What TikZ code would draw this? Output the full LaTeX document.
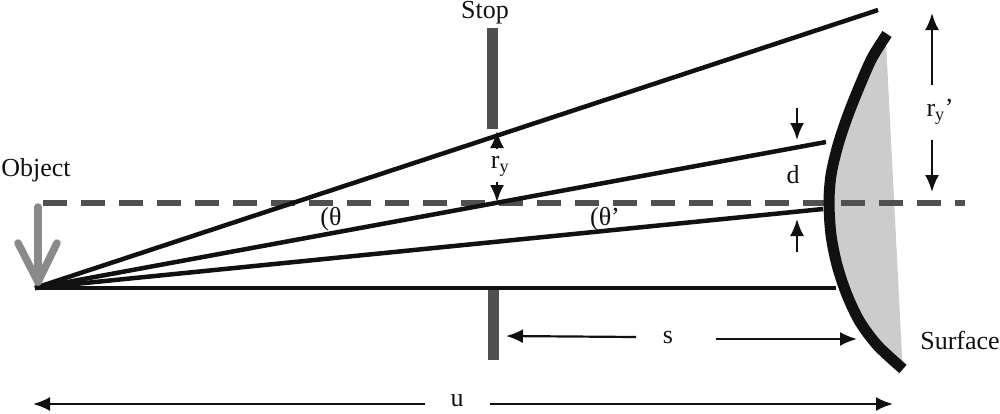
\documentclass[tikz,border=0pt]{standalone}
\usepackage{fontspec}
\setmainfont{Liberation Serif}
\usetikzlibrary{arrows.meta}
\definecolor{stopgray}{HTML}{505050}
\definecolor{objgray}{HTML}{8A8A8A}
\definecolor{surfgray}{HTML}{CCCCCC}
\definecolor{ink}{HTML}{111111}
\begin{document}
\begin{tikzpicture}[x=1pt,y=-1pt,
  lbl/.style={inner sep=0pt,font=\fontsize{26}{30}\selectfont,text=ink},
  ray/.style={draw=ink,line width=4.5pt},
  dimarrow/.style={draw=ink,line width=2.2pt,-{Latex[length=17pt,width=14pt]}},
  axis/.style={draw=stopgray,line width=6.5pt,dash pattern=on 24pt off 14pt},
  stopbar/.style={fill=stopgray,draw=none},
  objarrow/.style={draw=objgray,line width=7.5pt,line cap=round,line join=round},
  surf/.style={draw=ink,line width=11pt,line cap=butt}]
\useasboundingbox (0,0) rectangle (1000,413);
% coordinates
\coordinate (O) at (35,288);
\coordinate (R1) at (878,10);
\coordinate (R2) at (826,142);
\coordinate (R3) at (823,209);
\coordinate (R4) at (836,288);
% surface fill
\fill[surfgray] (887,34) -- plot[smooth] coordinates {(887,34) (872,58) (860,85) (848,115) (838,145) (831,175) (829,203) (831,235) (837,265) (847,295) (860,322) (878,346) (903,369)} -- (902,356) -- (886,42) -- cycle;
% axis
\draw[axis] (43,203) -- (965,203);
% stop bars
\fill[stopbar] (487,28) rectangle (498,129);
\fill[stopbar] (488,290) rectangle (499,360);
% rays
\draw[ray] (O) -- (R1);
\draw[ray] (O) -- (R2);
\draw[ray] (O) -- (R3);
\draw[ray] (O) -- (R4);
% surface
\draw[surf] plot[smooth] coordinates {(887,34) (872,58) (860,85) (848,115) (838,145) (831,175) (829,203) (831,235) (837,265) (847,295) (860,322) (878,346) (903,369)};
% object arrow
\coordinate (ObjTop) at (38,207);
\coordinate (ObjTip) at (38,282);
\draw[objarrow] (ObjTop) -- (ObjTip);
\draw[objarrow] (18,243) -- (ObjTip) -- (57,243);
% labels
\node[lbl] (stop) at (485,13) {Stop};
\node[lbl] (object) at (36,170) {Object};
\node[lbl] (ry) at (500,166) {r\textsubscript{y}};
\node[lbl] (theta) at (331,219) {(θ};
\node[lbl] (thetap) at (605,219) {(θ’};
\node[lbl] (d) at (793,175) {d};
\node[lbl] (ryp) at (940,112) {r\textsubscript{y}’};
\node[lbl] (s) at (668,337) {s};
\node[lbl] (surface) at (960,340) {Surface};
\node[lbl] (u) at (457,401) {u};
% r_y arrows
\coordinate (ryUp) at (497,131);
\coordinate (ryDn) at (497,202);
\draw[dimarrow] (497,149) -- (ryUp);
\draw[dimarrow] (497,182) -- (ryDn);
% d arrows
\draw[dimarrow] (797,108) -- (797,140);
\draw[dimarrow] (797,252) -- (797,219);
% r_y' arrows
\draw[dimarrow] (932,85) -- (932,13);
\draw[dimarrow] (932,140) -- (932,192);
% s arrows
\draw[dimarrow] (636,337) -- (506,336);
\draw[dimarrow] (716,339) -- (857,339);
% u arrows
\draw[dimarrow] (425,404) -- (33,404);
\draw[dimarrow] (490,404) -- (893,404);
\end{tikzpicture}
\end{document}
